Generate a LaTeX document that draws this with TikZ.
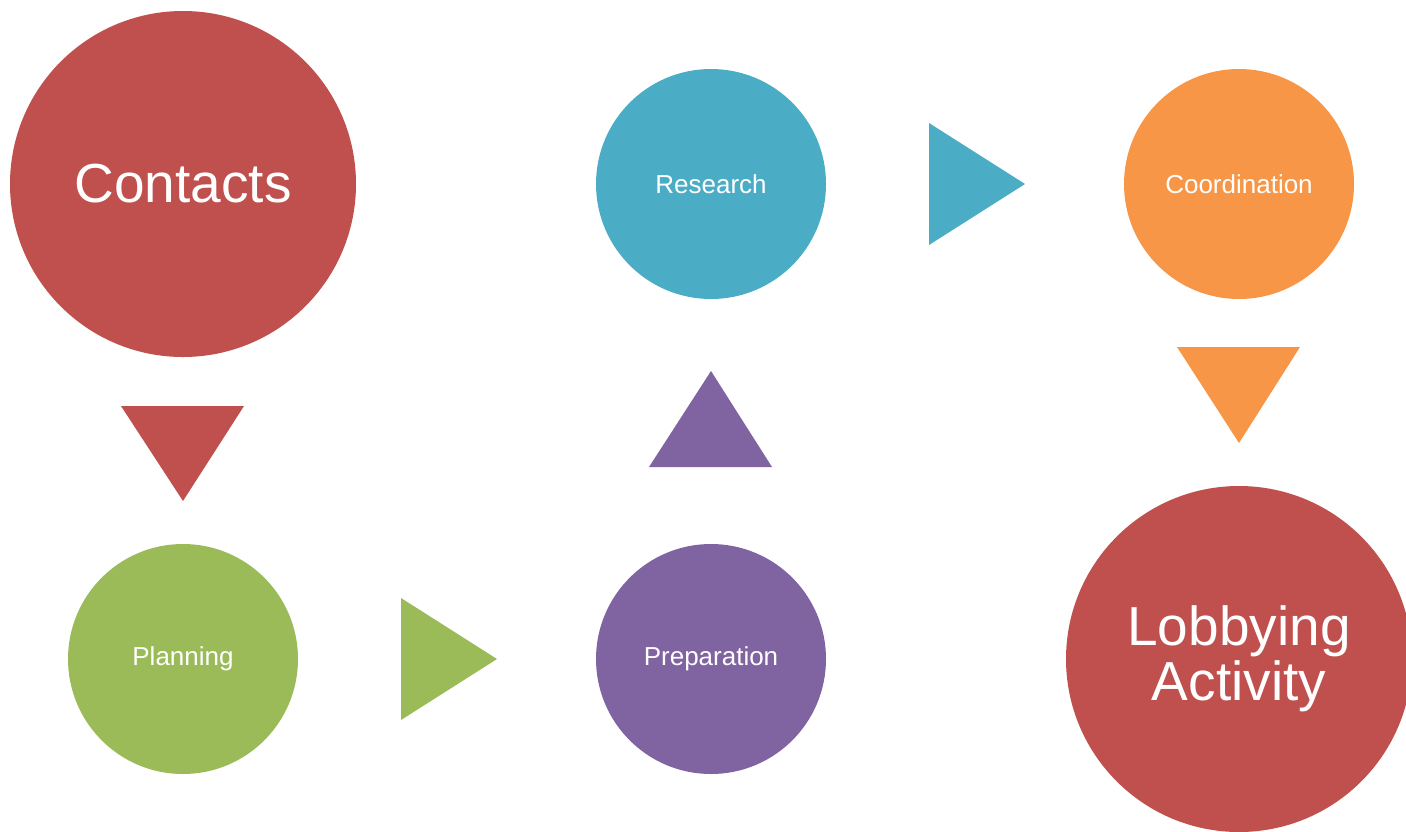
\documentclass[tikz,border=0pt]{standalone}
\usepackage{fontspec}
\setmainfont{Liberation Sans}
\definecolor{cred}{HTML}{C0504D}
\definecolor{cteal}{HTML}{4BACC6}
\definecolor{corange}{HTML}{F79646}
\definecolor{cgreen}{HTML}{9BBB59}
\definecolor{cpurple}{HTML}{8064A2}
\begin{document}
\begin{tikzpicture}[x=0.5pt,y=-0.5pt,
  bigc/.style={circle,minimum size=173pt,inner sep=0pt,text=white,font=\fontsize{27.5pt}{27.5pt}\selectfont,align=center},
  smallc/.style={circle,minimum size=115pt,inner sep=0pt,text=white,font=\fontsize{13pt}{15pt}\selectfont}]
\useasboundingbox (0,0) rectangle (1406,831);
\clip (0,0) rectangle (1406,831);
\node[bigc,fill=cred] (contacts) at (183,184) {Contacts};
\node[smallc,fill=cteal] (research) at (711,184) {Research};
\node[smallc,fill=corange] (coord) at (1239,184) {Coordination};
\node[smallc,fill=cgreen] (planning) at (183,659) {\raisebox{-1pt}{Planning}};
\node[smallc,fill=cpurple] (prep) at (711,659) {\raisebox{-1pt}{Preparation}};
\node[bigc,fill=cred] (lobby) at (1239,659) {\raisebox{-2pt}{Lobbying}\\\raisebox{-2pt}{Activity}};
% arrows (triangles)
\fill[cred] (121,406) -- (244,406) -- (183,501) -- cycle;
\fill[cgreen] (401,598) -- (497,659) -- (401,720) -- cycle;
\fill[cpurple] (649,467) -- (772,467) -- (711,371) -- cycle;
\fill[cteal] (929,123) -- (1025,184) -- (929,245) -- cycle;
\fill[corange] (1177,347) -- (1300,347) -- (1239,443) -- cycle;
\end{tikzpicture}
\end{document}
